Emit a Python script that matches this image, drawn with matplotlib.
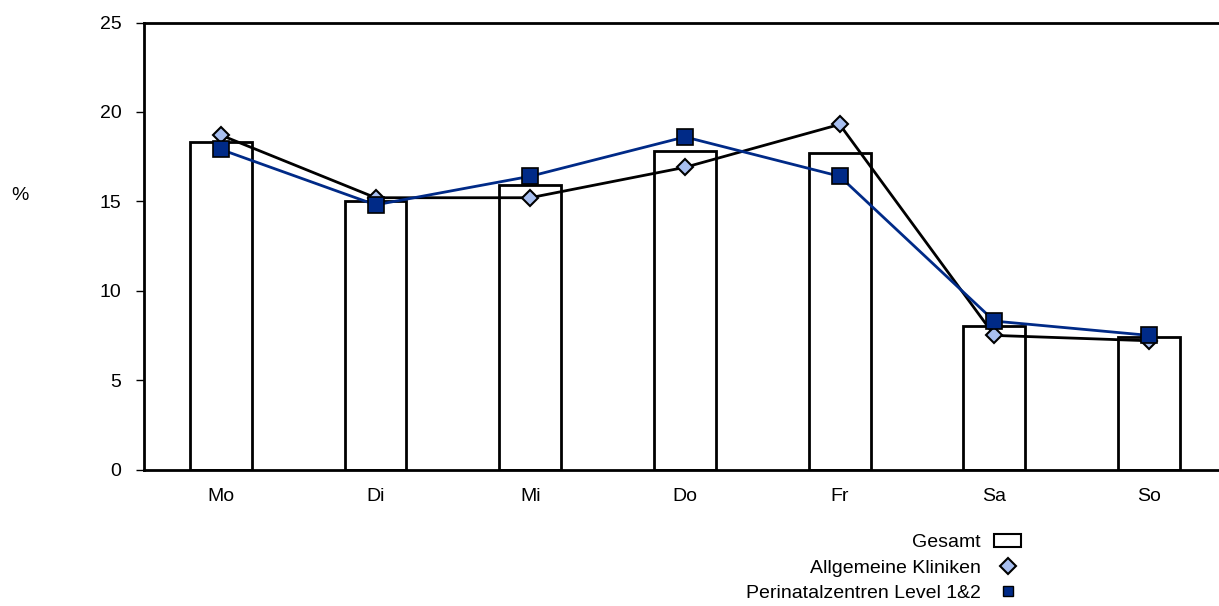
import matplotlib
matplotlib.use("Agg")
import matplotlib.pyplot as plt
from matplotlib.lines import Line2D
from matplotlib.patches import Patch
import numpy as np

plt.rcParams['font.family'] = ['Liberation Sans', 'DejaVu Sans']

days = ["Mo", "Di", "Mi", "Do", "Fr", "Sa", "So"]
gesamt = [18.3, 15.0, 15.9, 17.8, 17.7, 8.0, 7.4]
allgemeine = [18.7, 15.2, 15.2, 16.9, 19.3, 7.5, 7.2]
perinatal = [17.9, 14.8, 16.4, 18.6, 16.4, 8.3, 7.5]
yticks = [0, 5, 10, 15, 20, 25]

W, H = 1219, 606
fig = plt.figure(figsize=(W / 100, H / 100), dpi=100)
left = 143.5 / W
bottom = 1 - 469.5 / H
top = 1 - 22.5 / H
right = (143.5 + 7 * 154.7) / W
ax = fig.add_axes([left, bottom, right - left, top - bottom])

x = np.arange(len(days))
dark = "#002A87"
light = "#A8BFF0"
FS = 14
ax.bar(x, gesamt, width=0.4, facecolor="white", edgecolor="black", linewidth=2, zorder=2)
ax.plot(x, allgemeine, color="black", lw=2, marker="D", ms=8.5, mfc=light, mec="black", mew=1.5, zorder=3)
ax.plot(x, perinatal, color=dark, lw=2, marker="s", ms=11, mfc=dark, mec="black", mew=1.2, zorder=4)

ax.set_xlim(-0.5, 6.5)
ax.set_ylim(0, 25)
ax.set_yticks(yticks)
ax.set_yticklabels([str(t) for t in yticks], fontsize=FS)
ax.set_xticks(x)
ax.set_xticklabels(days, fontsize=FS)
ax.tick_params(axis='x', length=0, pad=13)
ax.tick_params(axis='y', length=6, width=1, direction='out', pad=10)
for s in ax.spines.values():
    s.set_linewidth(2)
    s.set_color("black")

fig.text(20 / W, 1 - 195 / H, "%", fontsize=FS, ha="center", va="center")

handles = [
    Patch(facecolor="white", edgecolor="black", linewidth=1.5),
    Line2D([], [], linestyle="none", marker="D", ms=8.5, mfc=light, mec="black", mew=1.5),
    Line2D([], [], linestyle="none", marker="s", ms=7, mfc=dark, mec="black", mew=1.0),
]
labels = ["Gesamt", "Allgemeine Kliniken", "Perinatalzentren Level 1&2"]
fig.legend(handles, labels, loc="upper right", bbox_to_anchor=(1031 / W, 1 - 524 / H),
           frameon=False, markerfirst=False, fontsize=FS, handlelength=1.4,
           handletextpad=0.7, labelspacing=0.4, borderpad=0)

fig.savefig("out.png", dpi=100)
